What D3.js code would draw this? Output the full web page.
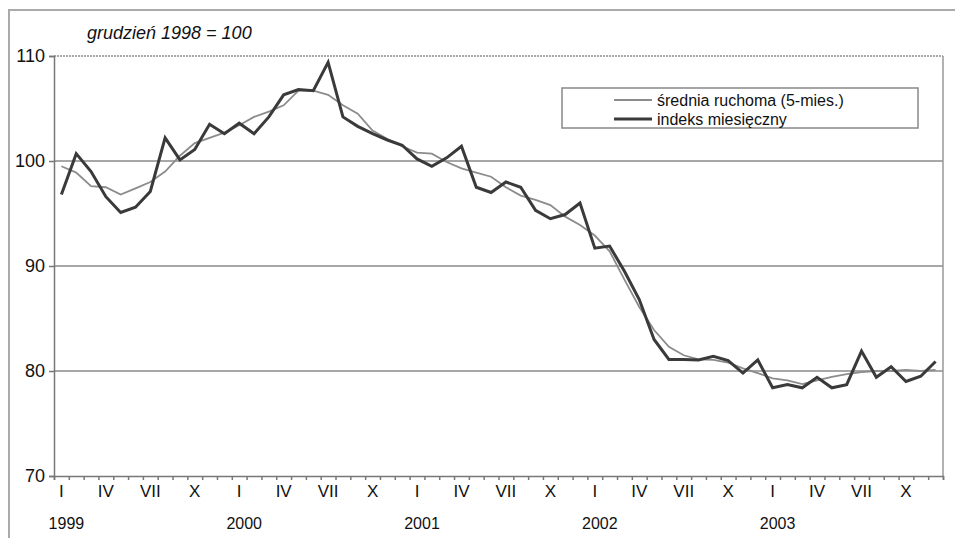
<!DOCTYPE html>
<html>
<head>
<meta charset="utf-8">
<script src="https://cdn.jsdelivr.net/npm/d3@7"></script>
<style>
  body { margin: 0; background: #fff; }
  text { font-family: "Liberation Sans", Arial, sans-serif; fill: #111; }
</style>
</head>
<body>
<div id="chart"></div>
<script>
// grudzień 1998 = 100, monthly data 1999-2003
const years = ['1999', '2000', '2001', '2002', '2003'];
const monthLabels = ['I', 'II', 'III', 'IV', 'V', 'VI', 'VII', 'VIII', 'IX', 'X', 'XI', 'XII'];
const yTicks = [70, 80, 90, 100, 110];

// indeks miesięczny
const indexValues = [
  96.8, 100.7, 99.0, 96.6, 95.1, 95.6, 97.1, 102.2, 100.1, 101.1, 103.5, 102.6,
  103.6, 102.6, 104.2, 106.3, 106.8, 106.7, 109.4, 104.2, 103.3, 102.6, 102.0, 101.5,
  100.2, 99.5, 100.3, 101.4, 97.5, 97.0, 98.0, 97.5, 95.3, 94.5, 94.9, 96.0,
  91.7, 91.9, 89.5, 86.8, 83.0, 81.1, 81.1, 81.05, 81.4, 81.0, 79.8, 81.05,
  78.4, 78.7, 78.4, 79.4, 78.4, 78.7, 81.9, 79.4, 80.4, 79.0, 79.5, 80.9
];

// średnia ruchoma (5-mies.)
const maValues = [
  99.5, 98.9, 97.6, 97.5, 96.8, 97.4, 98.0, 99.0, 100.5, 101.7, 102.2, 102.7,
  103.4, 104.2, 104.7, 105.3, 106.7, 106.7, 106.3, 105.3, 104.5, 102.9, 102.1, 101.4,
  100.8, 100.7, 99.9, 99.3, 98.9, 98.5, 97.5, 96.7, 96.3, 95.8, 94.7, 93.9,
  92.9, 91.4, 88.7, 86.1, 83.9, 82.3, 81.5, 81.1, 81.05, 80.8, 80.25, 79.8,
  79.3, 79.1, 78.75, 79.1, 79.45, 79.7, 79.9, 80.0, 80.0, 80.1, 80.0, 80.1
];

const width = 955, height = 538;
const plot = { left: 54, right: 943, top: 56, bottom: 476 };

const months = indexValues.map((d, i) => i);

const svg = d3.select('#chart').append('svg')
  .attr('width', width)
  .attr('height', height);

// outer frame
svg.append('path')
  .attr('d', `M9,${height} L9,10 L${width},10`)
  .style('fill', 'none')
  .style('stroke', '#aaa')
  .style('stroke-width', 2);

const x = d3.scaleBand()
  .domain(months)
  .range([plot.left, plot.right])
  .padding(0);

const xLin = d3.scaleLinear()
  .domain([0, months.length])
  .range([plot.left, plot.right]);

const y = d3.scaleLinear()
  .domain([70, 110])
  .range([plot.bottom, plot.top]);

const cx = (i) => x(i) + x.bandwidth() / 2;

// title
svg.append('text')
  .attr('x', 87)
  .attr('y', 39)
  .text('grudzień 1998 = 100')
  .style('font-size', '18px')
  .style('font-style', 'italic');

// grid lines
svg.append('g')
  .selectAll('line')
  .data(yTicks.filter(d => d > 70 && d < 110))
  .enter()
  .append('line')
  .attr('x1', plot.left)
  .attr('x2', plot.right)
  .attr('y1', d => y(d))
  .attr('y2', d => y(d))
  .style('stroke', '#8a8a8a')
  .style('stroke-width', 1.5);

// dotted top line
svg.append('line')
  .attr('x1', plot.left)
  .attr('x2', plot.right)
  .attr('y1', y(110))
  .attr('y2', y(110))
  .style('stroke', '#555')
  .style('stroke-width', 1)
  .style('stroke-dasharray', '2,1');

// right border
svg.append('line')
  .attr('x1', plot.right)
  .attr('x2', plot.right)
  .attr('y1', plot.top)
  .attr('y2', plot.bottom)
  .style('stroke', '#999')
  .style('stroke-width', 1.5);

// y axis
const yAxis = d3.axisLeft(y)
  .tickValues(yTicks)
  .tickSize(5)
  .tickPadding(4)
  .tickFormat(d3.format('d'));

const gy = svg.append('g')
  .attr('transform', `translate(${plot.left},0)`)
  .call(yAxis);

gy.selectAll('.domain, .tick line')
  .attr('stroke', '#777')
  .attr('stroke-width', 1.5);
gy.selectAll('text')
  .style('font-size', '18px')
  .attr('fill', '#111');

// x axis: month ticks
const xTickAxis = d3.axisBottom(xLin)
  .tickValues(d3.range(0, months.length + 1))
  .tickSize(4)
  .tickFormat('');

const gxt = svg.append('g')
  .attr('transform', `translate(0,${plot.bottom})`)
  .call(xTickAxis);

gxt.selectAll('.domain, .tick line')
  .attr('stroke', '#777')
  .attr('stroke-width', 1.5);

// x axis: quarter labels
const xAxis = d3.axisBottom(x)
  .tickValues(months.filter(i => i % 3 === 0))
  .tickSize(0)
  .tickPadding(9)
  .tickFormat(i => monthLabels[i % 12]);

const gx = svg.append('g')
  .attr('transform', `translate(0,${plot.bottom})`)
  .call(xAxis);

gx.select('.domain').remove();
gx.selectAll('text')
  .style('font-size', '17px')
  .attr('fill', '#111');

// year labels
svg.append('g')
  .selectAll('text')
  .data(years)
  .enter()
  .append('text')
  .attr('x', (d, i) => cx(i * 12) + 5)
  .attr('y', 529)
  .attr('text-anchor', 'middle')
  .text(d => d)
  .style('font-size', '16px');

// lines
const line = d3.line()
  .x((d, i) => cx(i))
  .y(d => y(d));

svg.append('path')
  .datum(maValues)
  .attr('d', line)
  .style('fill', 'none')
  .style('stroke', '#8c8c8c')
  .style('stroke-width', 1.8);

svg.append('path')
  .datum(indexValues)
  .attr('d', line)
  .style('fill', 'none')
  .style('stroke', '#3a3a3a')
  .style('stroke-width', 3)
  .style('stroke-linejoin', 'miter');

// legend
const legend = svg.append('g');

legend.append('rect')
  .attr('x', 562)
  .attr('y', 88)
  .attr('width', 356)
  .attr('height', 40)
  .style('fill', '#fff')
  .style('stroke', '#888')
  .style('stroke-width', 1.5);

const legendItems = [
  { label: 'średnia ruchoma (5-mies.)', color: '#8c8c8c', w: 1.8 },
  { label: 'indeks miesięczny', color: '#3a3a3a', w: 3 }
];

legendItems.forEach((item, i) => {
  const ly = 100 + i * 19;
  legend.append('line')
    .attr('x1', 614)
    .attr('x2', 652)
    .attr('y1', ly)
    .attr('y2', ly)
    .style('stroke', item.color)
    .style('stroke-width', item.w);
  legend.append('text')
    .attr('x', 657)
    .attr('y', ly + 6)
    .text(item.label)
    .style('font-size', '16px');
});
</script>
</body>
</html>
